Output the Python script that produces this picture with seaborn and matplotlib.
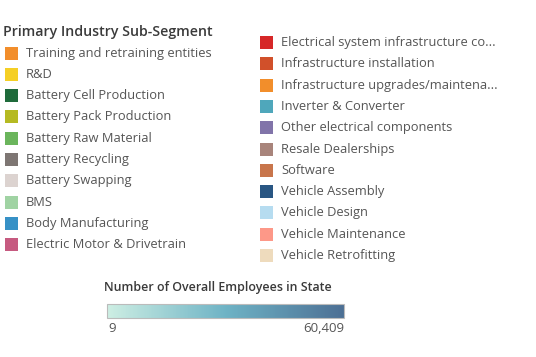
import matplotlib
matplotlib.use("Agg")
import matplotlib.pyplot as plt
import seaborn as sns
import numpy as np
from matplotlib.patches import Rectangle
from matplotlib.colors import LinearSegmentedColormap, Normalize
from matplotlib.cm import ScalarMappable

segments_left = ['Training and retraining entities', 'R&D', 'Battery Cell Production',
                 'Battery Pack Production', 'Battery Raw Material', 'Battery Recycling',
                 'Battery Swapping', 'BMS', 'Body Manufacturing', 'Electric Motor & Drivetrain']
colors_left = ['#f28e2b', '#f5cf25', '#1f6b3b', '#b5ba22', '#6bb55c', '#7e7673',
               '#dcd3d0', '#a0d3a3', '#3791c6', '#c65a80']

segments_right = ['Electrical system infrastructure co...', 'Infrastructure installation',
                  'Infrastructure upgrades/maintena...', 'Inverter & Converter',
                  'Other electrical components', 'Resale Dealerships', 'Software',
                  'Vehicle Assembly', 'Vehicle Design', 'Vehicle Maintenance',
                  'Vehicle Retrofitting']
colors_right = ['#d62728', '#d1502a', '#f28e2b', '#4fa7bb', '#8174a9', '#a8847b',
                '#c8754b', '#295683', '#b6dcf0', '#fd9888', '#eedbbd']

emp_min = 9
emp_max = 60409
cmap_colors = ['#cdeee3', '#6eb3c5', '#4c6f94']

sns.set_theme(style="white")
plt.rcParams['font.family'] = ['Open Sans', 'DejaVu Sans']

fig = plt.figure(figsize=(5.36, 3.57), dpi=100)
ax = fig.add_axes([0, 0, 1, 1])
ax.set_xlim(0, 536)
ax.set_ylim(357, 0)
ax.axis('off')

ax.text(3, 32, 'Primary Industry Sub-Segment', fontsize=10.2, fontweight='semibold',
        color='#3a3a3a', va='center', ha='left')

row_h = 21.3
for i, (name, c) in enumerate(zip(segments_left, colors_left)):
    y = 53 + i * row_h
    ax.add_patch(Rectangle((4.5, y - 6.5), 13, 13, facecolor=c, edgecolor='none'))
    ax.text(26, y, name, fontsize=9.25, color='#555555', va='center', ha='left')

for i, (name, c) in enumerate(zip(segments_right, colors_right)):
    y = 42.5 + i * row_h
    ax.add_patch(Rectangle((260, y - 6.5), 13, 13, facecolor=c, edgecolor='none'))
    ax.text(281, y, name, fontsize=9.25, color='#555555', va='center', ha='left')

ax.text(104, 287, 'Number of Overall Employees in State', fontsize=8.9, fontweight='semibold',
        color='#3a3a3a', va='center', ha='left')
ax.text(108, 328, f'{emp_min:,}', fontsize=9.5, color='#555555', va='center', ha='left')
ax.text(344, 328, f'{emp_max:,}', fontsize=9.5, color='#555555', va='center', ha='right')

cmap = LinearSegmentedColormap.from_list('emp', cmap_colors)
cax = fig.add_axes([107 / 536, 1 - 318 / 357, 237 / 536, 14 / 357])
cb = fig.colorbar(ScalarMappable(norm=Normalize(emp_min, emp_max), cmap=cmap),
                  cax=cax, orientation='horizontal')
cb.set_ticks([])
cb.outline.set_edgecolor('#bbbbbb')
cb.outline.set_linewidth(0.8)

fig.savefig('out.png', dpi=100)
